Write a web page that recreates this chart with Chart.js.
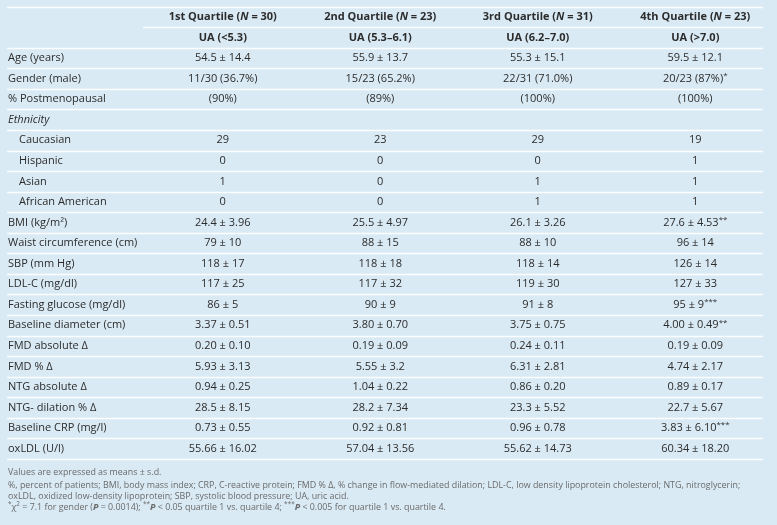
<!DOCTYPE html>
<html>
<head>
<meta charset="utf-8">
<script src="https://cdn.jsdelivr.net/npm/chart.js@4/dist/chart.umd.min.js"></script>
<style>
	html, body { margin: 0; padding: 0; background: #d9eaf4; }
	#wrap { position: relative; width: 777px; height: 525px; }
</style>
</head>
<body>
<div id="wrap"><canvas id="table1"></canvas></div>
<script>
'use strict';
// markup in cell strings: _italic_, ~bold~, ^superscript^
var rowLabels = ['', '', 'Age (years)', 'Gender (male)', '% Postmenopausal', 'Ethnicity',
	'\u2002\u2002Caucasian', '\u2002\u2002Hispanic', '\u2002\u2002Asian', '\u2002\u2002African American',
	'BMI (kg/m\u00b2)', 'Waist circumference (cm)', 'SBP (mm Hg)', 'LDL-C (mg/dl)', 'Fasting glucose (mg/dl)',
	'Baseline diameter (cm)', 'FMD absolute \u0394', 'FMD % \u0394', 'NTG absolute \u0394', 'NTG- dilation % \u0394',
	'Baseline CRP (mg/l)', 'oxLDL (U/l)'];
var italicRows = ['Ethnicity'];

var quartiles = ['1st Quartile (_N_ = 30)', '2nd Quartile (_N_ = 23)', '3rd Quartile (_N_ = 31)', '4th Quartile (_N_ = 23)'];
var uaRanges = ['UA (<5.3)', 'UA (5.3\u20136.1)', 'UA (6.2\u20137.0)', 'UA (>7.0)'];

var q1 = ['54.5 ± 14.4', '11/30 (36.7%)', '(90%)', '', '29', '0', '1', '0', '24.4 ± 3.96', '79 ± 10',
	'118 ± 17', '117 ± 25', '86 ± 5', '3.37 ± 0.51', '0.20 ± 0.10', '5.93 ± 3.13', '0.94 ± 0.25',
	'28.5 ± 8.15', '0.73 ± 0.55', '55.66 ± 16.02'];
var q2 = ['55.9 ± 13.7', '15/23 (65.2%)', '(89%)', '', '23', '0', '0', '0', '25.5 ± 4.97', '88 ± 15',
	'118 ± 18', '117 ± 32', '90 ± 9', '3.80 ± 0.70', '0.19 ± 0.09', '5.55 ± 3.2', '1.04 ± 0.22',
	'28.2 ± 7.34', '0.92 ± 0.81', '57.04 ± 13.56'];
var q3 = ['55.3 ± 15.1', '22/31 (71.0%)', '(100%)', '', '29', '0', '1', '1', '26.1 ± 3.26', '88 ± 10',
	'118 ± 14', '119 ± 30', '91 ± 8', '3.75 ± 0.75', '0.24 ± 0.11', '6.31 ± 2.81', '0.86 ± 0.20',
	'23.3 ± 5.52', '0.96 ± 0.78', '55.62 ± 14.73'];
var q4 = ['59.5 ± 12.1', '20/23 (87%)^*^', '(100%)', '', '19', '1', '1', '1', '27.6 ± 4.53^**^', '96 ± 14',
	'126 ± 14', '127 ± 33', '95 ± 9^***^', '4.00 ± 0.49^**^', '0.19 ± 0.09', '4.74 ± 2.17', '0.89 ± 0.17',
	'22.7 ± 5.67', '3.83 ± 6.10^***^', '60.34 ± 18.20'];

var footnotes = [
	'Values are expressed as means ± s.d.',
	'%, percent of patients; BMI, body mass index; CRP, C-reactive protein; FMD % \u0394, % change in flow-mediated dilation; LDL-C, low density lipoprotein cholesterol; NTG, nitroglycerin;',
	'oxLDL, oxidized low-density lipoprotein; SBP, systolic blood pressure; UA, uric acid.',
	'^*^\u03c7^2^ = 7.1 for gender (~_P_~ = 0.0014); ^**^~_P_~ < 0.05 quartile 1 vs. quartile 4; ^***^~_P_~ < 0.005 for quartile 1 vs. quartile 4.'
];

var FONT = '"Open Sans", "Noto Sans", sans-serif';
var SIZE = 11;
var TEXT = '#2c2c2c';
var NOTE = '#6a6a6a';

var parseRich = function (str) {
	var segs = [], cur = '', it = false, bd = false, sp = false;
	for (var i = 0; i < str.length; i++) {
		var c = str[i];
		if (c === '_' || c === '~' || c === '^') {
			if (cur) segs.push({ t: cur, i: it, b: bd, s: sp });
			cur = '';
			if (c === '_') it = !it; else if (c === '~') bd = !bd; else sp = !sp;
		} else {
			cur += c;
		}
	}
	if (cur) segs.push({ t: cur, i: it, b: bd, s: sp });
	return segs;
};

var drawRich = function (ctx, str, x, y, size, bold, align, color) {
	var segs = parseRich(str);
	var fontOf = function (s) {
		return (s.i ? 'italic ' : '') + (s.b || bold ? 'bold ' : '') + (s.s ? size * 0.72 : size) + 'px ' + FONT;
	};
	var total = 0;
	segs.forEach(function (s) {
		ctx.font = fontOf(s);
		s.w = ctx.measureText(s.t).width;
		total += s.w;
	});
	var cx = align === 'center' ? x - total / 2 : x;
	ctx.fillStyle = color;
	ctx.textAlign = 'left';
	ctx.textBaseline = 'middle';
	segs.forEach(function (s) {
		ctx.font = fontOf(s);
		ctx.fillText(s.t, cx, s.s ? y - size * 0.28 : y);
		cx += s.w;
	});
};

var tablePlugin = {
	id: 'tableCells',
	beforeDatasetsDraw: function (chart) {
		var ctx = chart.ctx, ys = chart.scales.y, area = chart.chartArea;
		ctx.save();
		ctx.strokeStyle = 'rgba(255,255,255,0.95)';
		ctx.lineWidth = 1.6;
		for (var r = -1; r < rowLabels.length; r++) {
			var yy = Math.round(ys.getPixelForValue(r + 0.5)) + 0.5;
			ctx.beginPath();
			ctx.moveTo(r === 0 ? area.left - 1 : ys.left - 1, yy);
			ctx.lineTo(area.right - 11, yy);
			ctx.stroke();
		}
		ctx.restore();
	},
	afterDatasetsDraw: function (chart) {
		var ctx = chart.ctx;
		ctx.save();
		chart.data.datasets.forEach(function (ds, q) {
			var meta = chart.getDatasetMeta(q);
			meta.data.forEach(function (pt, r) {
				var txt = ds.cells[r];
				if (txt) drawRich(ctx, txt, pt.x, pt.y, SIZE, r < 2, 'center', TEXT);
			});
		});
		var left = chart.scales.y.left;
		var bottom = chart.chartArea.bottom;
		var offsets = [13.5, 26, 37, 48];
		footnotes.forEach(function (line, i) {
			drawRich(ctx, line, left, bottom + offsets[i], 8.9, false, 'left', NOTE);
		});
		ctx.restore();
	}
};

var columns = [q1, q2, q3, q4];
var datasets = columns.map(function (vals, q) {
	var cells = [quartiles[q], uaRanges[q]].concat(vals);
	return {
		label: quartiles[q],
		cells: cells,
		data: cells.map(function (c, r) { return { x: q, y: r }; }),
		pointRadius: 0,
		pointHoverRadius: 0,
		showLine: false
	};
});

new Chart(document.getElementById('table1'), {
	type: 'scatter',
	data: { datasets: datasets },
	options: {
		responsive: true,
		maintainAspectRatio: false,
		animation: false,
		events: [],
		layout: { padding: { left: 8, right: 3, top: 4, bottom: 66 } },
		plugins: { legend: { display: false }, tooltip: { enabled: false } },
		scales: {
			x: { type: 'linear', min: -0.5, max: 3.5, display: false },
			y: {
				type: 'linear',
				reverse: true,
				min: -0.5,
				max: rowLabels.length - 0.5,
				grid: { display: false },
				border: { display: false },
				afterFit: function (scale) { scale.width = 136; },
				afterBuildTicks: function (scale) {
					scale.ticks = rowLabels.map(function (l, i) { return { value: i }; });
				},
				ticks: {
					autoSkip: false,
					crossAlign: 'far',
					padding: 0,
					color: TEXT,
					font: function (c) {
						var lbl = c.tick ? rowLabels[c.tick.value] : '';
						return { family: FONT, size: SIZE, style: italicRows.indexOf(lbl) >= 0 ? 'italic' : 'normal' };
					},
					callback: function (v) { return rowLabels[v]; }
				}
			}
		}
	},
	plugins: [tablePlugin]
});
</script>
</body>
</html>
